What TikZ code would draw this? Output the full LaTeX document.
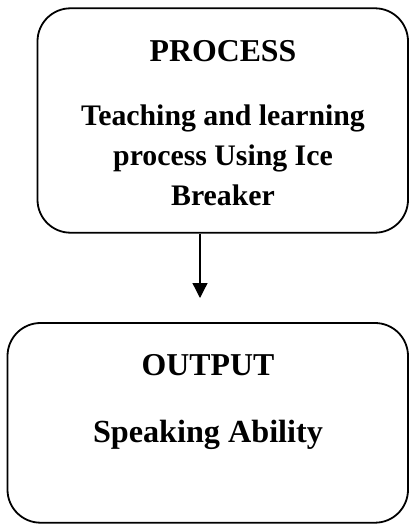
\documentclass[tikz,border=0pt]{standalone}
\usepackage{fontspec}
\setmainfont{Liberation Serif}
\usetikzlibrary{arrows.meta}
\tikzset{
  stagebox/.style={draw, line width=1.8pt, rounded corners=33pt, inner sep=0pt},
  heading/.style={anchor=base, inner sep=0pt, font=\fontsize{31.8}{36}\selectfont\bfseries},
  bodyline/.style={anchor=base, inner sep=0pt, font=\fontsize{29.8}{36}\selectfont\bfseries},
  bigline/.style={anchor=base, inner sep=0pt, font=\fontsize{32.2}{38}\selectfont\bfseries},
  flow/.style={line width=1.3pt, -{Triangle[width=15pt,length=15pt]}}
}
\begin{document}
\begin{tikzpicture}[x=1pt,y=-1pt]
\useasboundingbox (0,0) rectangle (409,524);

% stage boxes
\node[stagebox, minimum width=370.5pt, minimum height=224.4pt] (process) at (222.75,120.5) {};
\node[stagebox, minimum width=400.5pt, minimum height=199.7pt] (output) at (207.75,422.85) {};

% process text
\node[heading]  (ptitle) at (223,62)  {PROCESS};
\node[bodyline] (pl1)    at (223,125) {Teaching and learning};
\node[bodyline] (pl2)    at (223,165) {process Using Ice};
\node[bodyline] (pl3)    at (223,205) {Breaker};

% output text
\node[heading]  (otitle) at (208,375)   {OUTPUT};
\node[bigline]  (ol1)    at (208,442)   {Speaking Ability};

% connector
\coordinate (tip) at (200,298);
\draw[flow] (process.south -| tip) -- (tip);
\end{tikzpicture}
\end{document}
